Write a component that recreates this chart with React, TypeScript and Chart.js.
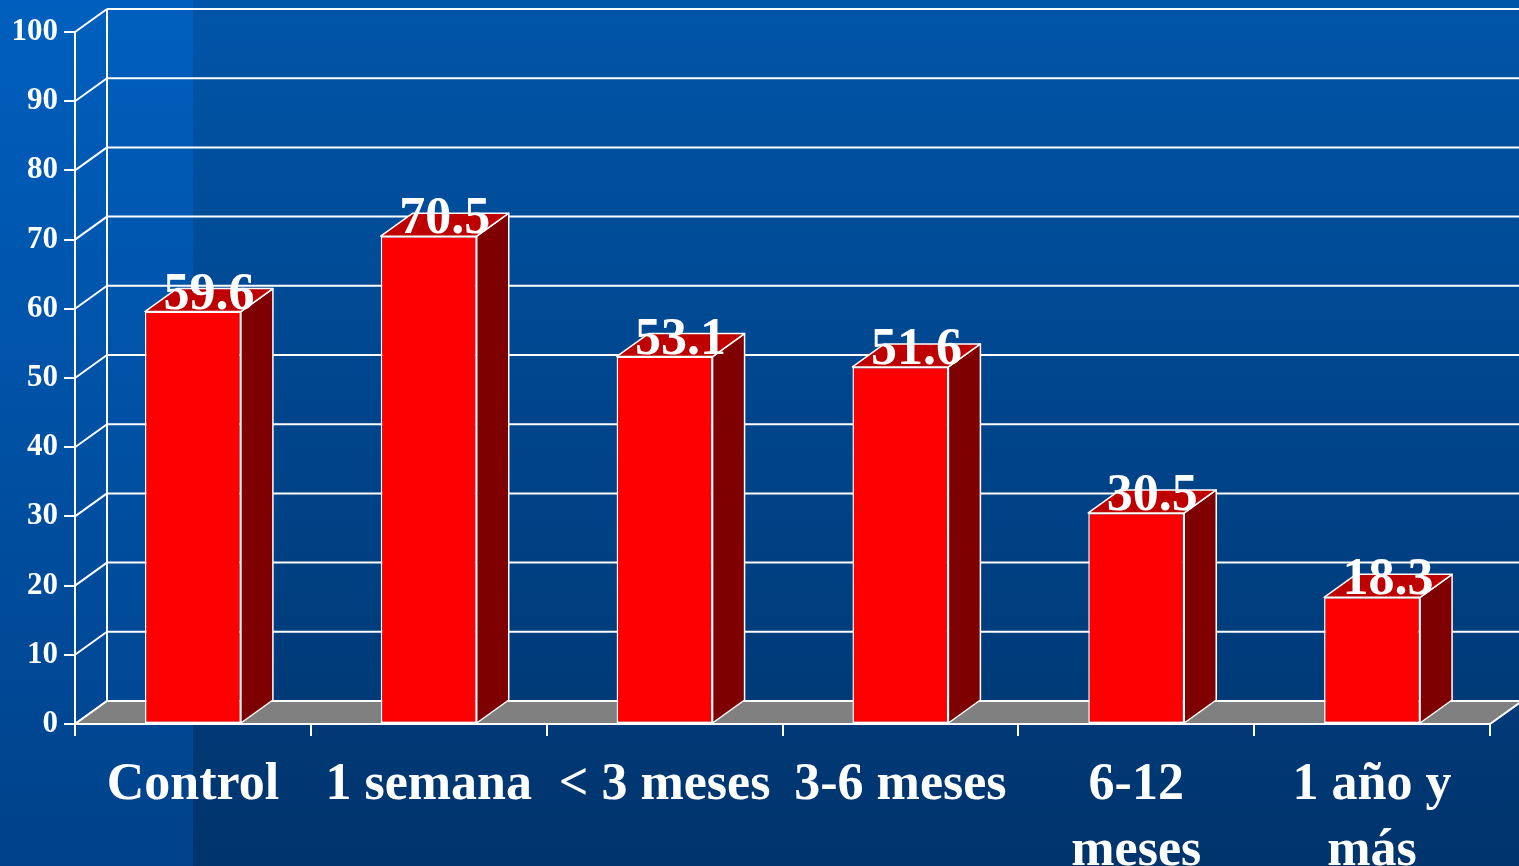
import React, { useEffect, useRef } from "react";
import { Chart, registerables } from "chart.js";

Chart.register(...registerables);

const categories: (string | string[])[] = [
  "Control",
  "1 semana",
  "< 3 meses",
  "3-6 meses",
  ["6-12", "meses"],
  ["1 año y", "más"],
];
const values: number[] = [59.6, 70.5, 53.1, 51.6, 30.5, 18.3];
const yMin = 0;
const yMax = 100;
const yStep = 10;

const DX = 32;
const DY = -23;
const FONT = "'Liberation Serif', 'Times New Roman', serif";

const threeD = {
  id: "threeD",
  beforeDraw(chart: any) {
    const { ctx, width, height } = chart;
    ctx.save();
    const g = ctx.createLinearGradient(0, 0, 0, height);
    g.addColorStop(0, "#0055A9");
    g.addColorStop(1, "#00346C");
    ctx.fillStyle = g;
    ctx.fillRect(0, 0, width, height);
    const g2 = ctx.createLinearGradient(0, 0, 0, height);
    g2.addColorStop(0, "#005FBE");
    g2.addColorStop(1, "#00428A");
    ctx.fillStyle = g2;
    ctx.fillRect(0, 0, 193, height);
    ctx.restore();
  },
  beforeDatasetsDraw(chart: any) {
    const { ctx, chartArea, scales } = chart;
    const { left, right, bottom } = chartArea;
    const y = scales.y;
    ctx.save();
    ctx.strokeStyle = "#ffffff";
    ctx.lineWidth = 2;
    for (const t of y.ticks) {
      const py = y.getPixelForValue(t.value);
      ctx.beginPath();
      ctx.moveTo(left + DX, py + DY);
      ctx.lineTo(chart.width, py + DY);
      ctx.moveTo(left, py);
      ctx.lineTo(left + DX, py + DY);
      ctx.stroke();
    }
    ctx.beginPath();
    ctx.moveTo(left + DX, y.getPixelForValue(y.max) + DY);
    ctx.lineTo(left + DX, y.getPixelForValue(y.min) + DY);
    ctx.stroke();
    // floor
    ctx.beginPath();
    ctx.moveTo(left, bottom);
    ctx.lineTo(right, bottom);
    ctx.lineTo(right + DX, bottom + DY);
    ctx.lineTo(left + DX, bottom + DY);
    ctx.closePath();
    ctx.fillStyle = "#808080";
    ctx.fill();
    ctx.stroke();
    ctx.restore();
  },
  afterDatasetsDraw(chart: any) {
    const { ctx } = chart;
    const meta = chart.getDatasetMeta(0);
    const data = chart.data.datasets[0].data as number[];
    ctx.save();
    ctx.strokeStyle = "#ffffff";
    ctx.lineWidth = 1.5;
    ctx.lineJoin = "round";
    meta.data.forEach((bar: any, i: number) => {
      const p = bar.getProps(["x", "y", "base", "width"], true);
      const xl = p.x - p.width / 2;
      const xr = p.x + p.width / 2;
      const top = p.y;
      const base = p.base;
      // side
      ctx.beginPath();
      ctx.moveTo(xr, top);
      ctx.lineTo(xr + DX, top + DY);
      ctx.lineTo(xr + DX, base + DY);
      ctx.lineTo(xr, base);
      ctx.closePath();
      ctx.fillStyle = "#7F0000";
      ctx.fill();
      ctx.stroke();
      // top
      ctx.beginPath();
      ctx.moveTo(xl, top);
      ctx.lineTo(xl + DX, top + DY);
      ctx.lineTo(xr + DX, top + DY);
      ctx.lineTo(xr, top);
      ctx.closePath();
      ctx.fillStyle = "#BF0000";
      ctx.fill();
      ctx.stroke();
      // label
      ctx.fillStyle = "#ffffff";
      ctx.font = `bold 52px ${FONT}`;
      ctx.textAlign = "center";
      ctx.textBaseline = "alphabetic";
      ctx.fillText(data[i].toFixed(1), p.x + DX / 2, top - 3);
    });
    ctx.restore();
  },
};

export default function App() {
  const ref = useRef<HTMLCanvasElement | null>(null);
  useEffect(() => {
    if (!ref.current) return;
    const chart = new Chart(ref.current, {
      type: "bar",
      data: {
        labels: categories,
        datasets: [
          {
            data: values,
            backgroundColor: "#FF0000",
            borderColor: "#ffffff",
            borderWidth: 1.5,
            borderSkipped: false,
            categoryPercentage: 1,
            barPercentage: 0.407,
          },
        ],
      },
      options: {
        responsive: false,
        animation: false,
        layout: { padding: { top: 32, right: 29, left: 0, bottom: 0 } },
        plugins: {
          legend: { display: false },
          tooltip: { enabled: false },
        },
        scales: {
          x: {
            offset: true,
            grid: {
              display: true,
              drawOnChartArea: false,
              drawTicks: true,
              tickLength: 12,
              color: "#ffffff",
              lineWidth: 2,
              offset: true,
            },
            border: { display: true, color: "#ffffff", width: 2 },
            ticks: {
              color: "#ffffff",
              font: { family: FONT, weight: "bold", size: 52, lineHeight: 1.27 },
              padding: 17,
              maxRotation: 0,
              autoSkip: false,
            },
            afterFit: (s: any) => {
              s.height = 142;
            },
          },
          y: {
            min: yMin,
            max: yMax,
            ticks: {
              stepSize: yStep,
              color: "#ffffff",
              font: { family: FONT, weight: "bold", size: 31 },
              padding: 6,
            },
            grid: {
              display: true,
              drawOnChartArea: false,
              drawTicks: true,
              tickLength: 11,
              color: "#ffffff",
              lineWidth: 2,
            },
            border: { display: true, color: "#ffffff", width: 2 },
            afterFit: (s: any) => {
              s.width = 75;
            },
          },
        },
      } as any,
      plugins: [threeD],
    });
    return () => chart.destroy();
  }, []);
  return (
    <div style={{ position: "fixed", left: 0, top: 0, width: 1519, height: 866 }}>
      <canvas ref={ref} width={1519} height={866} style={{ display: "block" }} />
    </div>
  );
}
